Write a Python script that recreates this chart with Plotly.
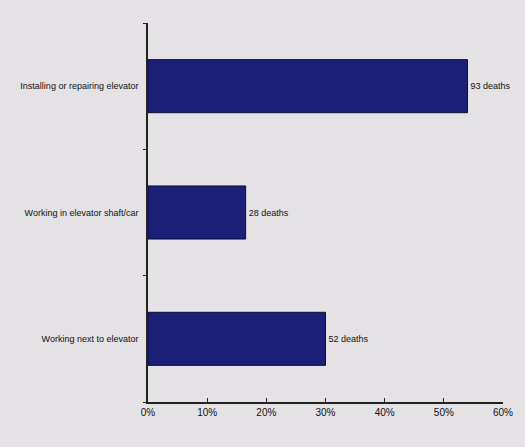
import plotly.graph_objects as go

categories = ["Installing or repairing elevator", "Working in elevator shaft/car", "Working next to elevator"]
deaths = [93, 28, 52]
percent = [54.0, 16.5, 30.0]
bar_labels = ["93 deaths", "28 deaths", "52 deaths"]
tick_vals = [0, 10, 20, 30, 40, 50, 60]
tick_text = ["0%", "10%", "20%", "30%", "40%", "50%", "60%"]

fig = go.Figure(go.Bar(
    x=percent,
    y=categories,
    orientation="h",
    width=0.42,
    marker=dict(color="#1b1f78", line=dict(color="#0c0e30", width=1)),
    text=bar_labels,
    textposition="outside",
    textfont=dict(family="Liberation Sans Narrow, Arial Narrow, Liberation Sans, sans-serif", size=9, color="#111111"),
    cliponaxis=False,
))

fig.update_layout(
    width=525, height=447,
    margin=dict(l=148, r=20, t=23, b=45),
    paper_bgcolor="#e4e2e5",
    plot_bgcolor="#e4e2e5",
    showlegend=False,
    font=dict(family="Liberation Sans Narrow, Arial Narrow, Liberation Sans, sans-serif", size=9, color="#111111"),
    bargap=0.5,
)
fig.update_xaxes(
    range=[0, 60], tickvals=tick_vals, ticktext=tick_text,
    showgrid=False, zeroline=False, showline=True, linecolor="#222222", linewidth=1.5,
    ticks="inside", ticklen=4, tickcolor="#222222",
    tickfont=dict(size=10, color="#111111"),
)
fig.update_yaxes(
    categoryorder="array", categoryarray=categories[::-1],
    showgrid=False, zeroline=False, showline=True, linecolor="#222222", linewidth=1.5,
    ticks="outside", tickson="boundaries", ticklen=3, tickcolor="#222222",
    ticklabelstandoff=6,
    tickfont=dict(size=9, color="#111111"),
)

fig.write_html("out.html")
